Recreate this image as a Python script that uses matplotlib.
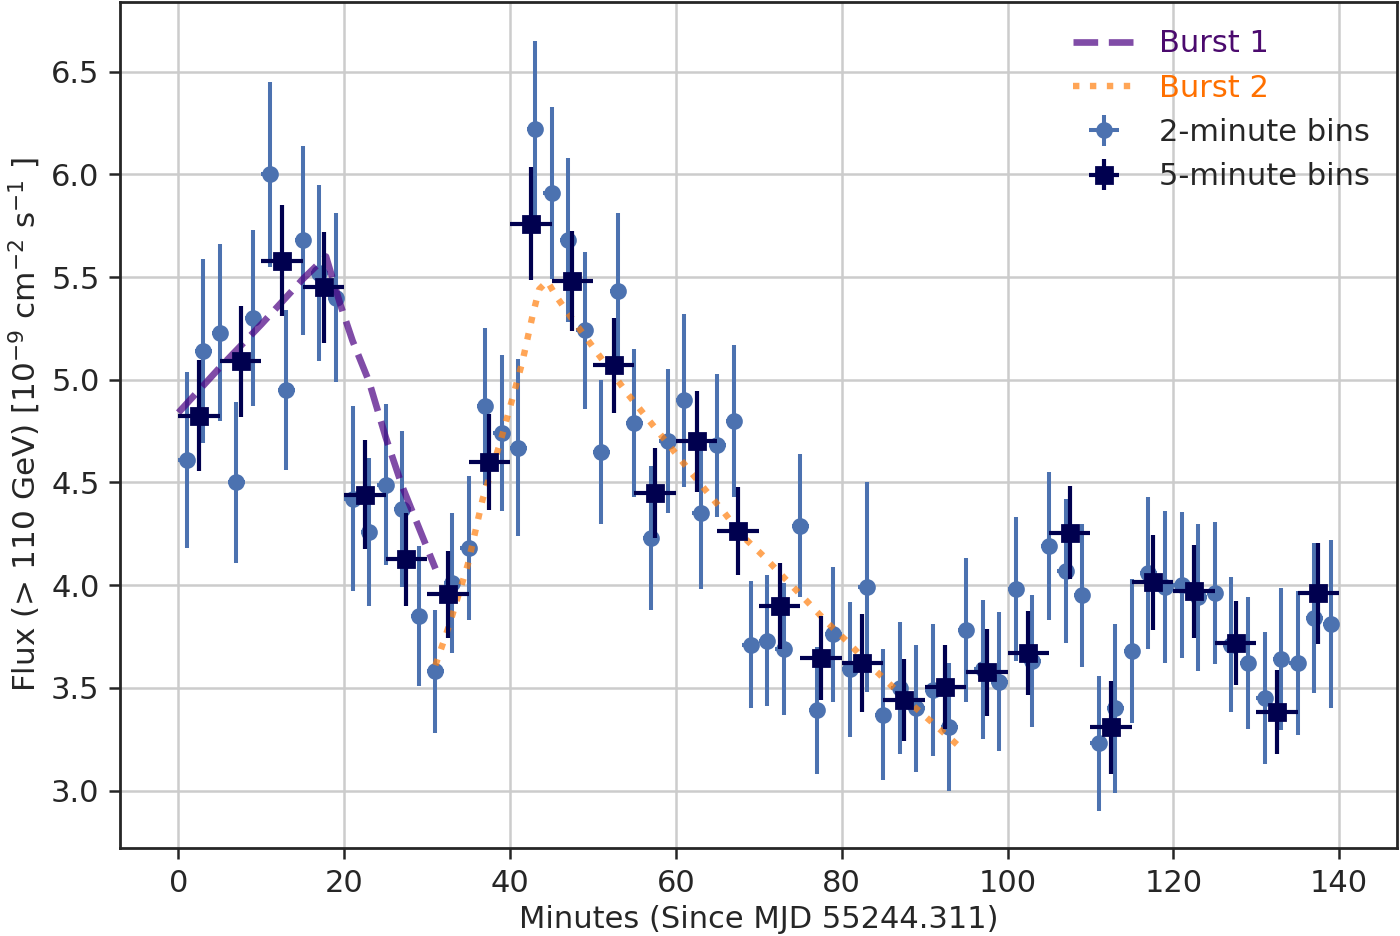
import matplotlib
matplotlib.use('Agg')
import matplotlib.pyplot as plt

# 2-minute bins
t2 = [1, 3, 5, 7, 9, 11, 13, 15, 17, 19, 21, 23, 25, 27, 29, 31, 33, 35, 37, 39,
      41, 43, 45, 47, 49, 51, 53, 55, 57, 59, 61, 63, 65, 67, 69, 71, 73, 75, 77, 79,
      81, 83, 85, 87, 89, 91, 93, 95, 97, 99, 101, 103, 105, 107, 109, 111, 113, 115, 117, 119,
      121, 123, 125, 127, 129, 131, 133, 135, 137, 139]
flux2 = [4.61, 5.14, 5.23, 4.50, 5.30, 6.00, 4.95, 5.68, 5.52, 5.40,
         4.42, 4.26, 4.49, 4.37, 3.85, 3.58, 4.01, 4.18, 4.87, 4.74,
         4.67, 6.22, 5.91, 5.68, 5.24, 4.65, 5.43, 4.79, 4.23, 4.70,
         4.90, 4.35, 4.68, 4.80, 3.71, 3.73, 3.69, 4.29, 3.39, 3.76,
         3.59, 3.99, 3.37, 3.50, 3.40, 3.49, 3.31, 3.78, 3.59, 3.53,
         3.98, 3.63, 4.19, 4.07, 3.95, 3.23, 3.40, 3.68, 4.06, 3.99,
         4.00, 3.94, 3.96, 3.71, 3.62, 3.45, 3.64, 3.62, 3.84, 3.81]
err2 = [0.43, 0.45, 0.43, 0.39, 0.43, 0.45, 0.39, 0.46, 0.43, 0.41,
        0.45, 0.36, 0.39, 0.38, 0.34, 0.30, 0.34, 0.35, 0.38, 0.38,
        0.43, 0.43, 0.42, 0.40, 0.38, 0.35, 0.38, 0.36, 0.35, 0.35,
        0.42, 0.37, 0.35, 0.37, 0.31, 0.32, 0.32, 0.35, 0.31, 0.33,
        0.33, 0.51, 0.32, 0.32, 0.31, 0.32, 0.31, 0.35, 0.34, 0.34,
        0.35, 0.32, 0.36, 0.35, 0.35, 0.33, 0.41, 0.35, 0.37, 0.37,
        0.355, 0.36, 0.345, 0.33, 0.32, 0.32, 0.345, 0.35, 0.365, 0.41]

# 5-minute bins
t5 = [2.5, 7.5, 12.5, 17.5, 22.5, 27.5, 32.5, 37.5, 42.5, 47.5, 52.5, 57.5, 62.5, 67.5,
      72.5, 77.5, 82.5, 87.5, 92.5, 97.5, 102.5, 107.5, 112.5, 117.5, 122.5, 127.5, 132.5, 137.5]
flux5 = [4.825, 5.09, 5.58, 5.45, 4.44, 4.125, 3.955, 4.60, 5.76, 5.48, 5.07, 4.45, 4.70, 4.265,
         3.90, 3.645, 3.62, 3.44, 3.505, 3.575, 3.67, 4.256, 3.307, 4.013, 3.97, 3.718, 3.383, 3.96]
err5 = [0.27, 0.27, 0.27, 0.27, 0.265, 0.225, 0.21, 0.235, 0.275, 0.245, 0.23, 0.22, 0.245, 0.215,
        0.21, 0.205, 0.24, 0.20, 0.205, 0.21, 0.205, 0.225, 0.225, 0.23, 0.225, 0.205, 0.205, 0.245]

# burst profiles
b1_t = [0, 5, 10, 15, 17.8, 19.5, 21, 23, 25, 27, 29, 31]
b1_f = [4.84, 5.06, 5.27, 5.49, 5.60, 5.37, 5.19, 4.99, 4.72, 4.48, 4.28, 4.08]
b2_t = [31, 32.7, 34.9, 36.7, 38.7, 40.5, 41.5, 42.7, 43.5, 44.5, 45.5, 47.6, 49.8, 52.0,
        54.2, 56.4, 58.6, 61.0, 63.3, 65.7, 68.0, 70.6, 73.2, 75.6, 78.2, 80.8, 83.4, 86.0,
        88.7, 91.5, 94.3]
b2_f = [3.61, 3.81, 4.10, 4.42, 4.68, 4.94, 5.09, 5.31, 5.44, 5.48, 5.41, 5.29, 5.17, 5.05,
        4.93, 4.82, 4.71, 4.59, 4.476, 4.36, 4.24, 4.14, 4.03, 3.93, 3.82, 3.72, 3.61, 3.51,
        3.41, 3.31, 3.21]

plt.rcParams['font.family'] = ['DejaVu Sans']
plt.rcParams['font.size'] = 11
plt.rcParams['text.color'] = '#262626'
plt.rcParams['axes.labelcolor'] = '#262626'
plt.rcParams['xtick.color'] = '#262626'
plt.rcParams['ytick.color'] = '#262626'

fig, ax = plt.subplots(figsize=(7, 4.68), dpi=200)
fig.subplots_adjust(left=0.086, right=0.998, top=0.998, bottom=0.094)

ax.grid(True, color='#cccccc', linewidth=0.9)
ax.set_axisbelow(True)

ax.errorbar(t2, flux2, yerr=err2, xerr=1, fmt='o', color='#4c72b0', ms=5,
            elinewidth=1.45, capsize=0, label='2-minute bins', zorder=2)
l1, = ax.plot(b1_t, b1_f, '--', color='#4b0082', alpha=0.7, lw=2.4, label='Burst 1', zorder=3)
l2, = ax.plot(b2_t, b2_f, ':', color='#ff7f0e', alpha=0.7, lw=2.3, label='Burst 2', zorder=3)
ax.errorbar(t5, flux5, yerr=err5, xerr=2.5, fmt='s', color='#00004f', ms=6,
            elinewidth=1.5, capsize=0, label='5-minute bins', zorder=4)

for s in ax.spines.values():
    s.set_color('#262626')
    s.set_linewidth(1.0)
ax.tick_params(direction='out', length=4, width=0.9)

ax.set_xticks([0, 20, 40, 60, 80, 100, 120, 140])
ax.set_yticks([3.0, 3.5, 4.0, 4.5, 5.0, 5.5, 6.0, 6.5])
ax.set_xlim(-7, 147)
ax.set_ylim(2.72, 6.84)
ax.set_xlabel('Minutes (Since MJD 55244.311)', labelpad=2.5)
ax.set_ylabel(r'Flux (> 110 GeV) [10$^{-9}$ cm$^{-2}$ s$^{-1}$ ]', labelpad=3, fontsize=11.2)

handles, labels = ax.get_legend_handles_labels()
order = [labels.index(n) for n in ['Burst 1', 'Burst 2', '2-minute bins', '5-minute bins']]
leg = ax.legend([handles[i] for i in order], [labels[i] for i in order],
                loc='upper right', frameon=False, fontsize=11)
leg.get_texts()[0].set_color('#4b0a6e')
leg.get_texts()[1].set_color('#ff7000')

fig.savefig('out.png', dpi=200)
